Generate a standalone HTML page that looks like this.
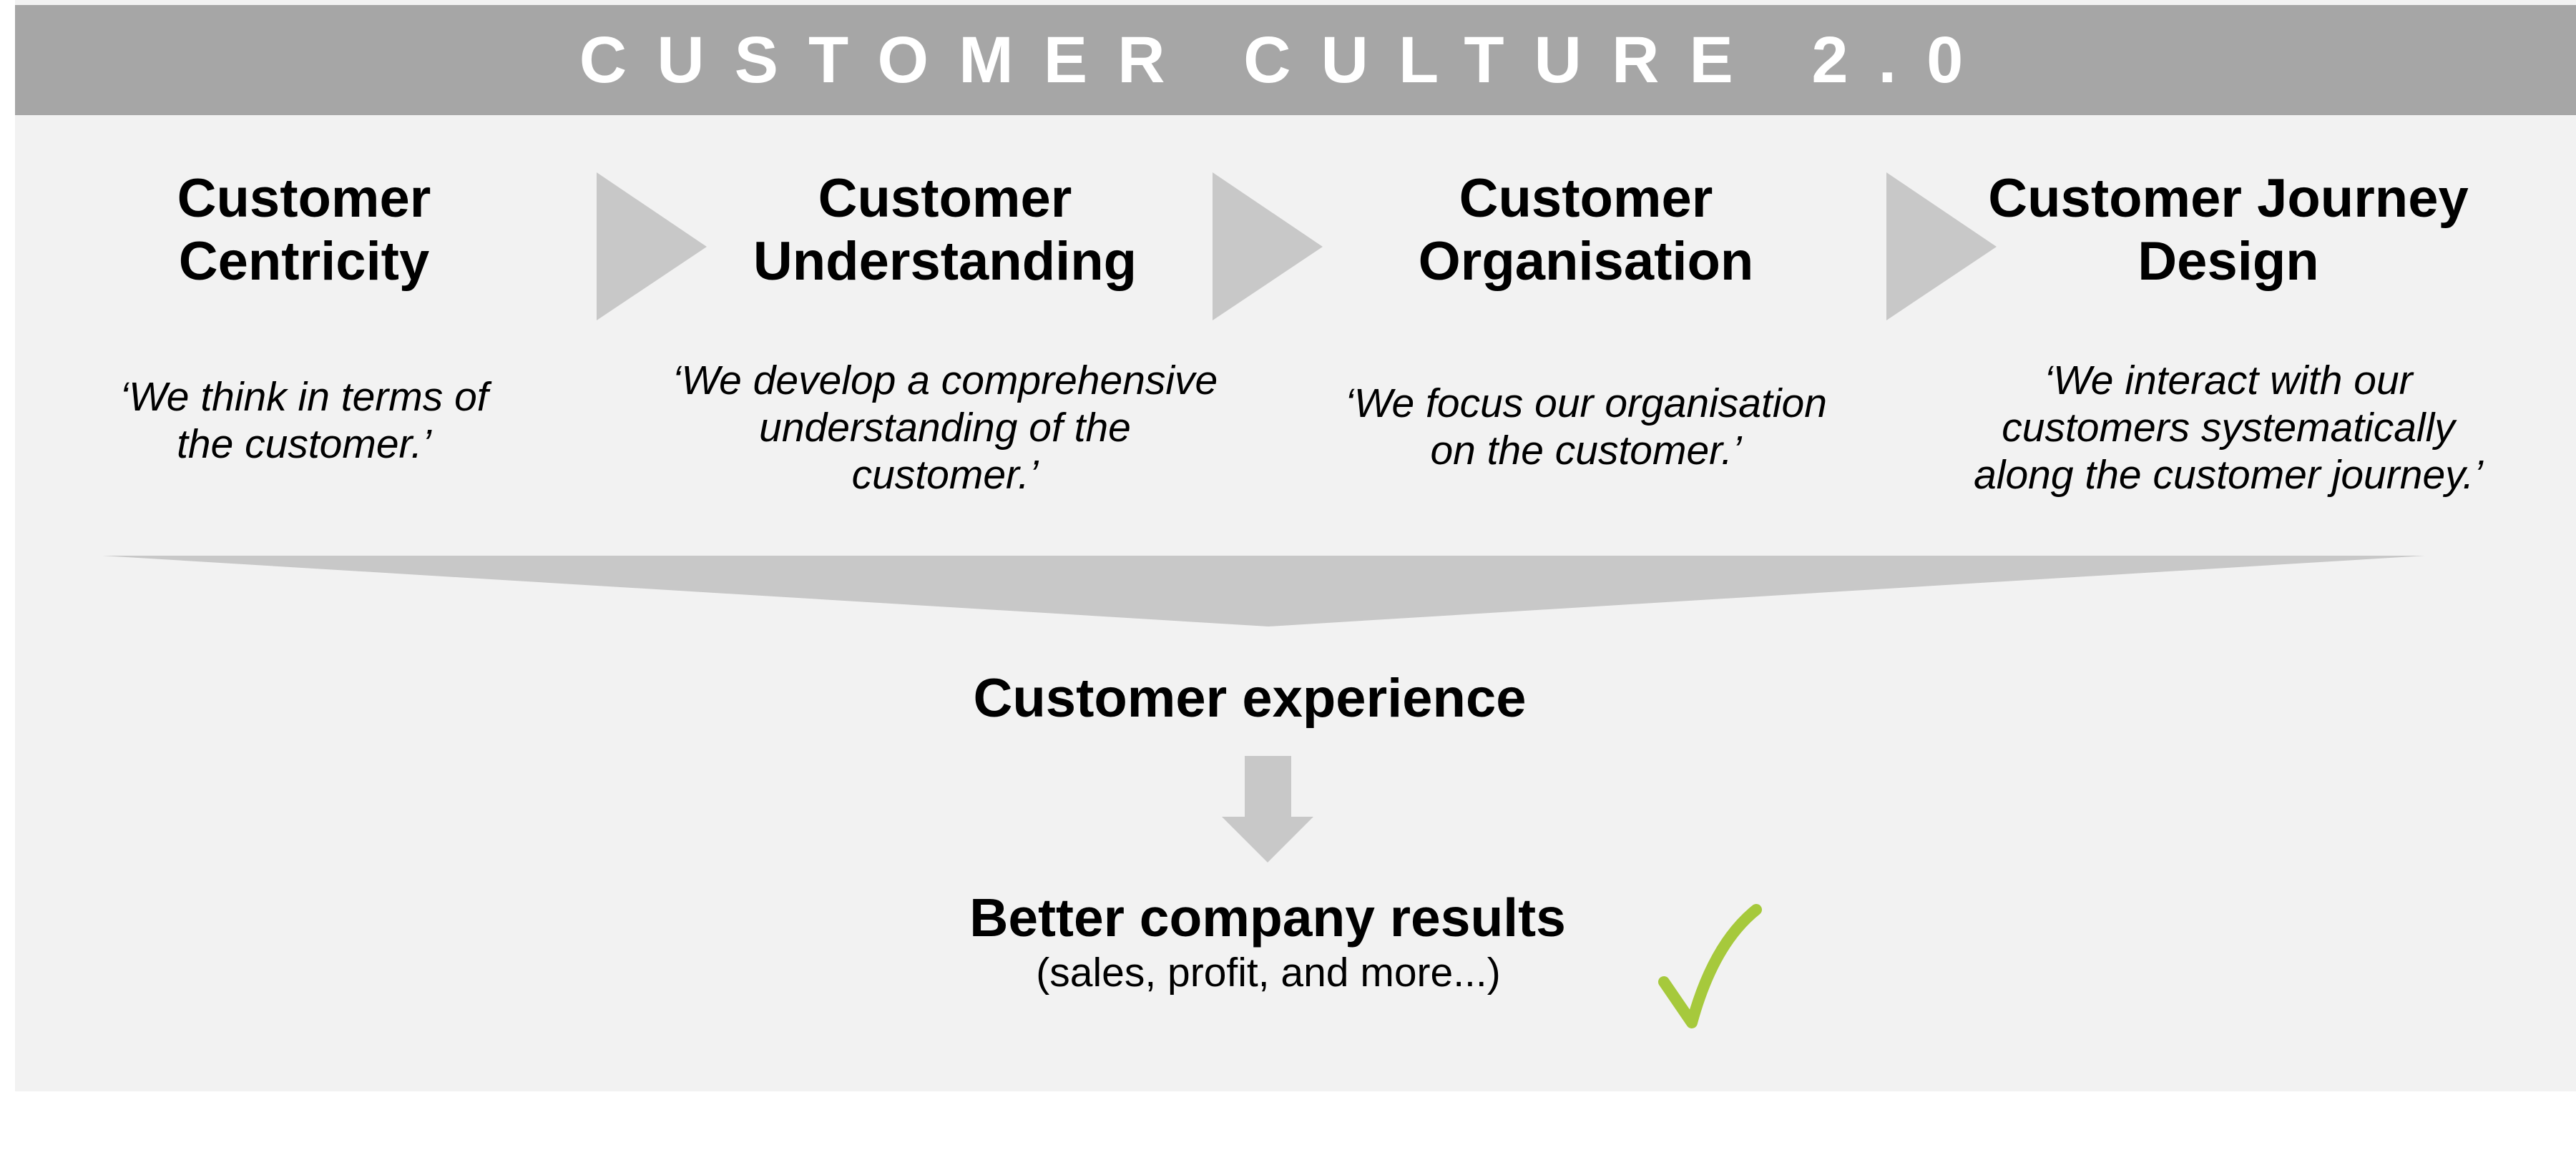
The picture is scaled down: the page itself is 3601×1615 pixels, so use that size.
<!DOCTYPE html>
<html><head><meta charset="utf-8"><style>
html,body{margin:0;padding:0;background:#fff;}
svg{display:block}
text{font-family:"Liberation Sans",Arial,sans-serif;}
.h{font-size:76px;font-weight:bold;fill:#000;text-anchor:middle}
.q{font-size:57px;font-style:italic;fill:#000;text-anchor:middle}
</style></head><body>
<svg width="3601" height="1615" viewBox="0 0 3601 1615" xmlns="http://www.w3.org/2000/svg">
<rect x="21" y="0" width="3580" height="1526" fill="#f2f2f2"/>
<rect x="21" y="7" width="3580" height="154" fill="#a6a6a6"/>
<text x="1798" y="115" text-anchor="middle" style="font-size:92px;font-weight:bold;letter-spacing:42px" fill="#fff">CUSTOMER CULTURE 2.0</text>

<polygon points="834,241 988,345 834,448" fill="#c8c8c8"/>
<polygon points="1695,241 1849,345 1695,448" fill="#c8c8c8"/>
<polygon points="2637,241 2791,345 2637,448" fill="#c8c8c8"/>

<text class="h" x="425" y="303">Customer</text>
<text class="h" x="425" y="391">Centricity</text>
<text class="h" x="1321" y="303">Customer</text>
<text class="h" x="1321" y="391">Understanding</text>
<text class="h" x="2217" y="303">Customer</text>
<text class="h" x="2217" y="391">Organisation</text>
<text class="h" x="3115" y="303">Customer Journey</text>
<text class="h" x="3115" y="391">Design</text>

<text class="q" x="425" y="574">‘We think in terms of</text>
<text class="q" x="425" y="640">the customer.’</text>
<text class="q" x="1321" y="551">‘We develop a comprehensive</text>
<text class="q" x="1321" y="617">understanding of the</text>
<text class="q" x="1321" y="683">customer.’</text>
<text class="q" x="2217" y="583">‘We focus our organisation</text>
<text class="q" x="2217" y="649">on the customer.’</text>
<text class="q" x="3115" y="551">‘We interact with our</text>
<text class="q" x="3115" y="617">customers systematically</text>
<text class="q" x="3115" y="683">along the customer journey.’</text>

<polygon points="143,777 3390,777 1773,876" fill="#c8c8c8"/>

<text x="1747" y="1002" text-anchor="middle" style="font-size:76px;font-weight:bold">Customer experience</text>

<polygon points="1740,1057 1805,1057 1805,1142 1836,1142 1772,1206 1708,1142 1740,1142" fill="#c8c8c8"/>

<text x="1772" y="1309" text-anchor="middle" style="font-size:75px;font-weight:bold">Better company results</text>
<text x="1773" y="1379" text-anchor="middle" style="font-size:57px">(sales, profit, and more...)</text>

<path d="M2326,1373 Q2348,1405 2365,1430 Q2395,1320 2455,1272" fill="none" stroke="#a6c93c" stroke-width="16" stroke-linecap="round" stroke-linejoin="round"/>
</svg>
</body></html>
